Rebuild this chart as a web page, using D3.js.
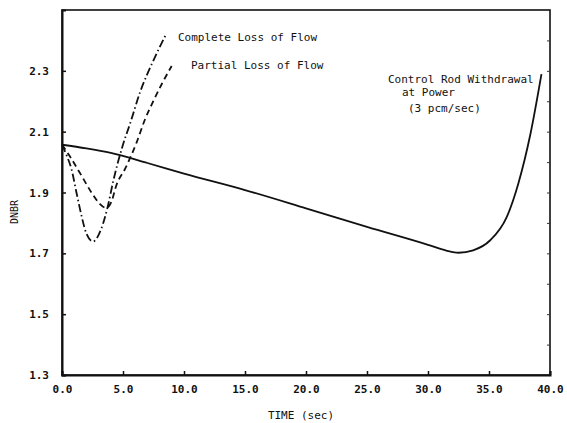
<!DOCTYPE html>
<html>
<head>
<meta charset="utf-8">
<script src="https://cdn.jsdelivr.net/npm/d3@7"></script>
<style>
  body { margin: 0; background: #fff; }
  text { font-family: "DejaVu Sans Mono", "Liberation Mono", monospace; fill: #111; }
</style>
</head>
<body>
<svg width="567" height="423"></svg>
<script>
var svg = d3.select("svg");
var svgWidth = +svg.attr("width");
var svgHeight = +svg.attr("height");

var padding = { t: 10, r: 17, b: 48, l: 62 };

// data: [time (sec), DNBR]
var controlRod = [
  [0, 2.057], [2, 2.045], [4, 2.03], [7, 1.997], [10, 1.962], [15, 1.908],
  [20, 1.848], [25, 1.787], [30, 1.728], [31.5, 1.709], [32.5, 1.702],
  [33.7, 1.71], [35.1, 1.743], [36.45, 1.819], [37.4, 1.929], [38.4, 2.093],
  [39.3, 2.289]
];
var completeLoss = [
  [0, 2.057], [0.4, 2.02], [0.77, 1.978], [1.18, 1.901], [1.59, 1.825],
  [2.0, 1.765], [2.54, 1.739], [3.22, 1.781], [3.77, 1.857], [4.18, 1.934],
  [4.59, 2.0], [5.02, 2.06], [5.57, 2.125], [6.39, 2.229], [7.48, 2.333],
  [8.5, 2.418]
];
var partialLoss = [
  [0, 2.057], [0.63, 2.02], [1.59, 1.956], [2.4, 1.901], [3.09, 1.863],
  [3.63, 1.849], [4.04, 1.868], [4.45, 1.923], [5.2, 1.98], [6.12, 2.065],
  [6.8, 2.14], [7.48, 2.2], [8.17, 2.256], [8.99, 2.316]
];

var xTicks = [0, 5, 10, 15, 20, 25, 30, 35, 40];
var yTicks = [1.3, 1.5, 1.7, 1.9, 2.1, 2.3];

var xscale = d3.scaleLinear().domain([0, 40]).range([padding.l, svgWidth - padding.r]);
var yscale = d3.scaleLinear().domain([1.3, 2.5]).range([svgHeight - padding.b, padding.t]);

// frame
svg.append("rect")
  .attr("x", xscale(0)).attr("y", yscale(2.5))
  .attr("width", xscale(40) - xscale(0))
  .attr("height", yscale(1.3) - yscale(2.5))
  .attr("fill", "none").attr("stroke", "#111").attr("stroke-width", 1.6);

// x axis
var xAxis = svg.append("g")
  .attr("transform", "translate(0," + yscale(1.3) + ")")
  .call(d3.axisBottom(xscale).tickValues(xTicks).tickSize(-4).tickPadding(10)
    .tickFormat(d3.format(".1f")));
xAxis.select(".domain").attr("stroke-width", 2).attr("stroke", "#111");
xAxis.selectAll("line").attr("stroke", "#111").attr("stroke-width", 1.5);
xAxis.selectAll("text").style("font-size", "11px").style("font-weight", "bold");

// y axis
var yAxis = svg.append("g")
  .attr("transform", "translate(" + xscale(0) + ",0)")
  .call(d3.axisLeft(yscale).tickValues(yTicks).tickSize(-4).tickPadding(13)
    .tickFormat(d3.format(".1f")));
yAxis.select(".domain").attr("stroke-width", 2).attr("stroke", "#111");
yAxis.selectAll("line").attr("stroke", "#111").attr("stroke-width", 1.5);
yAxis.selectAll("text").style("font-size", "11px").style("font-weight", "bold");

// small ticks on right edge
var rightAxis = svg.append("g")
  .attr("transform", "translate(" + xscale(40) + ",0)")
  .call(d3.axisRight(yscale).tickValues(d3.range(1.4, 2.5, 0.1)).tickSize(-3).tickFormat(""));
rightAxis.select(".domain").remove();
rightAxis.selectAll("line").attr("stroke", "#333").attr("stroke-width", 1);

// lines
var line = d3.line()
  .x(function (d) { return xscale(d[0]); })
  .y(function (d) { return yscale(d[1]); })
  .curve(d3.curveMonotoneX);

svg.append("path").datum(controlRod)
  .attr("d", line).attr("fill", "none")
  .attr("stroke", "#111").attr("stroke-width", 1.8);

svg.append("path").datum(completeLoss)
  .attr("d", line).attr("fill", "none")
  .attr("stroke", "#111").attr("stroke-width", 1.8)
  .attr("stroke-dasharray", "8,3,1.5,3");

svg.append("path").datum(partialLoss)
  .attr("d", line).attr("fill", "none")
  .attr("stroke", "#111").attr("stroke-width", 1.8)
  .attr("stroke-dasharray", "6,4");

// labels
svg.append("text").attr("x", 178).attr("y", 41)
  .style("font-size", "11px").text("Complete Loss of Flow");
svg.append("text").attr("x", 191).attr("y", 69)
  .style("font-size", "11px").text("Partial Loss of Flow");
svg.append("text").attr("x", 388).attr("y", 83)
  .style("font-size", "11px").text("Control Rod Withdrawal");
svg.append("text").attr("x", 402).attr("y", 96)
  .style("font-size", "11px").text("at Power");
svg.append("text").attr("x", 408).attr("y", 112)
  .style("font-size", "11px").text("(3 pcm/sec)");

// axis titles
svg.append("text").attr("x", 301).attr("y", 419)
  .attr("text-anchor", "middle")
  .style("font-size", "11px").text("TIME  (sec)");
svg.append("text")
  .attr("transform", "translate(18,212) rotate(-90)")
  .attr("text-anchor", "middle")
  .style("font-size", "10px").text("DNBR");
</script>
</body>
</html>
